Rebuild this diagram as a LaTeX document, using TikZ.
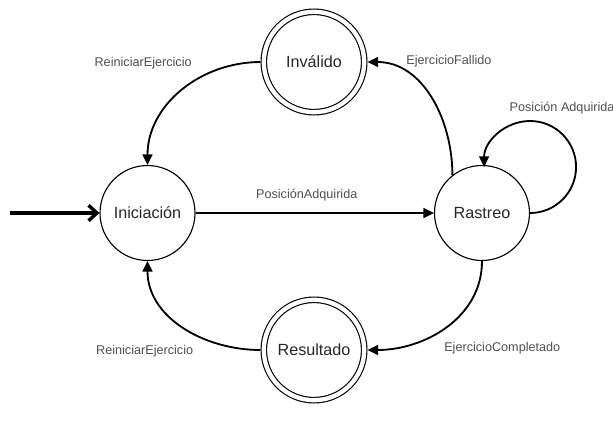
\documentclass[tikz,border=0pt]{standalone}
\usepackage{fontspec}
\setmainfont{Liberation Sans}
\usepackage{xcolor}
\usepackage{tikz}
\usetikzlibrary{arrows.meta, positioning}
\definecolor{statetext}{RGB}{40,40,40}
\definecolor{labelgray}{RGB}{80,80,80}
\tikzset{
  state/.style={
    circle, draw=black, line width=0.8pt, minimum size=2.375cm, inner sep=0pt,
    text centered, font=\fontsize{11.5}{13}\selectfont, text=statetext
  },
  final/.style={
    state, minimum size=2.51cm, double, double distance=3.1pt, outer sep=2.35pt
  },
  trans/.style={-{Triangle[length=7.5pt, width=7pt]}, line width=1.3pt, color=black},
  initarrow/.style={-{Straight Barb[length=6pt, width=11pt]}, line width=2.4pt, color=black},
  translabel/.style={font=\fontsize{9}{10}\selectfont, text=labelgray, inner sep=1pt}
}

\begin{document}
\begin{tikzpicture}
    \useasboundingbox (0,0) rectangle (15.325,10.525);
    % States of the tracking automaton
    \node[state] (ini) at (3.6875,5.2)  {Iniciación};
    \node[state] (ras) at (12.05,5.2)   {Rastreo};
    \node[final] (inv) at (7.85,8.975)  {Inválido};
    \node[final] (res) at (7.85,1.775)  {Resultado};
    \coordinate (start) at (0.25,5.2);

    \draw[initarrow] (start) -- (ini);
    \draw[trans] (ini) -- node[translabel, midway, above=0.25cm, xshift=-0.2cm]
      {PosiciónAdquirida} (ras);
    \draw[trans] (inv.west) to[out=180, in=90] node[translabel, pos=0.25,
      anchor=east, xshift=-0.59cm, yshift=0.17cm] {ReiniciarEjercicio} (ini.north);
    \draw[trans] (ras.128) to[out=90, in=0] node[translabel, pos=0.75,
      anchor=south west, yshift=2pt] {EjercicioFallido} (inv.east);
    \draw[trans] (ras.east) arc[start angle=-90, end angle=180, radius=1.15cm];
    \node[translabel, above right=1.22cm and 0.65cm of ras.north] (loop)
      {Posición Adquirida};
    \draw[trans] (ras.south) to[out=270, in=0] node[translabel, pos=0.6,
      below right=0.12cm and 0.24cm] {EjercicioCompletado} (res.east);
    \draw[trans] (res.west) to[out=180, in=270] node[translabel, pos=0.25,
      anchor=east, xshift=-0.59cm, yshift=-0.17cm] {ReiniciarEjercicio} (ini.south);
  \end{tikzpicture}
\end{document}
